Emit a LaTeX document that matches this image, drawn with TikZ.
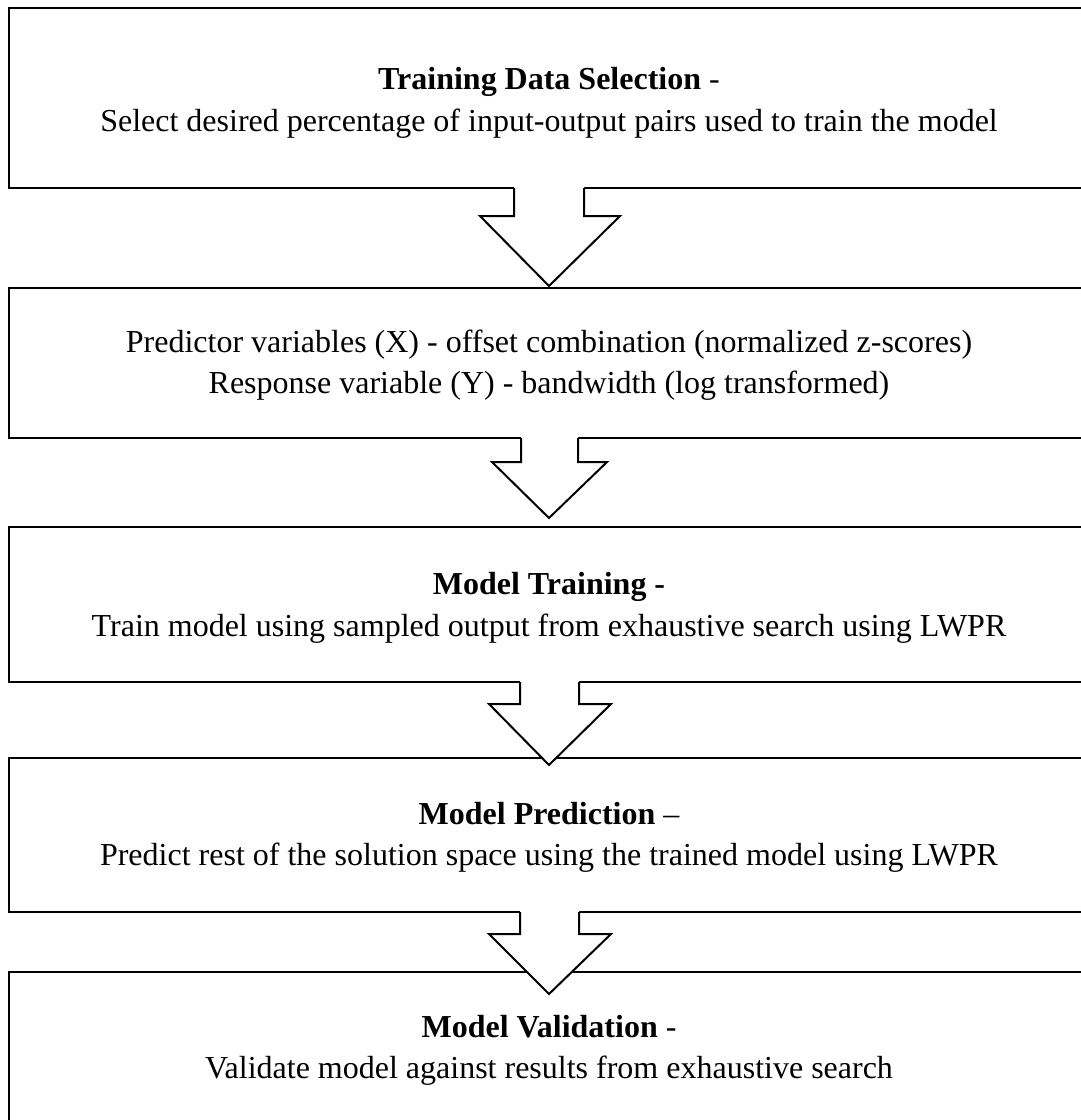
\documentclass[tikz,border=0pt]{standalone}
\usepackage{fontspec}
\setmainfont{Liberation Serif}
\begin{document}
\begin{tikzpicture}[x=1pt,y=-1pt,
  stagebox/.style={draw=black,line width=2.2pt,fill=white},
  txt/.style={anchor=base,inner sep=0pt,font=\fontsize{32}{38}\selectfont},
  flowarrow/.style={draw=black,line width=2pt,line join=miter}]
\useasboundingbox (0,0) rectangle (1081,1120);
\clip (0,0) rectangle (1081,1120);
% boxes
\draw[stagebox] (9,8) rectangle (1100,188);
\draw[stagebox] (9,288) rectangle (1100,438);
\draw[stagebox] (9,527) rectangle (1100,682);
\draw[stagebox] (9,758) rectangle (1100,912);
\draw[stagebox] (9,972) rectangle (1100,1140);
% texts
\node[txt] (t1a) at (549,89) {\textbf{Training Data Selection} -};
\node[txt] (t1b) at (549,131) {Select desired percentage of input-output pairs used to train the model};
\node[txt] (t2a) at (549,352) {Predictor variables (X) - offset combination (normalized z-scores)};
\node[txt] (t2b) at (549,393) {Response variable (Y) - bandwidth (log transformed)};
\node[txt] (t3a) at (549,594) {\textbf{Model Training -}};
\node[txt] (t3b) at (549,636) {Train model using sampled output from exhaustive search using LWPR};
\node[txt] (t4a) at (549,824) {\textbf{Model Prediction} –};
\node[txt] (t4b) at (549,865) {Predict rest of the solution space using the trained model using LWPR};
\node[txt] (t5a) at (549,1037) {\textbf{Model Validation} -};
\node[txt] (t5b) at (549,1078) {Validate model against results from exhaustive search};
% arrows
\foreach \sl/\sr/\hl/\hr/\top/\hy/\tip in {514/584/480/620/188/216/286, 521/578/492/607/438/462/518, 520/579/489/611/682/704/765, 520/579/489/611/912/934/994}{
  \fill[white] (\sl,\top-3) -- (\sl,\hy) -- (\hl,\hy) -- (549,\tip) -- (\hr,\hy) -- (\sr,\hy) -- (\sr,\top-3) -- cycle;
  \draw[flowarrow] (\sl,\top) -- (\sl,\hy) -- (\hl,\hy) -- (549,\tip) -- (\hr,\hy) -- (\sr,\hy) -- (\sr,\top);
}
\end{tikzpicture}
\end{document}
